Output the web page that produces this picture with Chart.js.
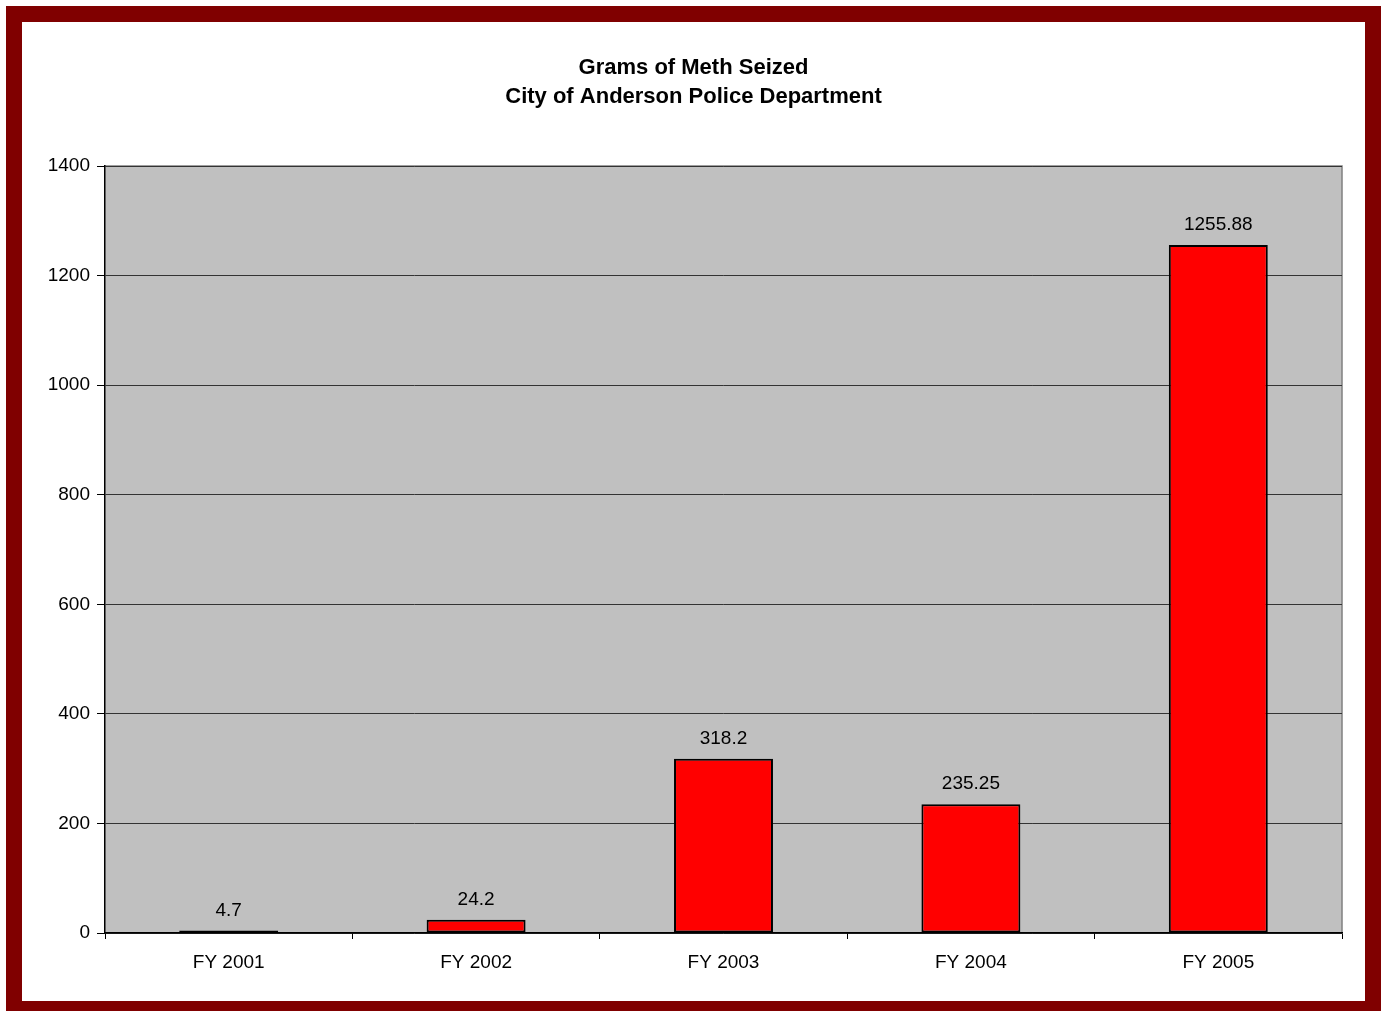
<!DOCTYPE html>
<html>
<head>
<meta charset="utf-8">
<script src="https://cdn.jsdelivr.net/npm/chart.js@4/dist/chart.umd.min.js"></script>
<style>
  html, body { margin: 0; padding: 0; background: #fff; }
  #frame {
    position: absolute; left: 6px; top: 6px;
    width: 1343px; height: 979px;
    border: 16px solid #800000;
    background: #fff;
  }
  canvas { display: block; }
</style>
</head>
<body>
<div id="frame"><canvas id="chart" width="1343" height="979"></canvas></div>
<script>
// valores
var years = ["FY 2001", "FY 2002", "FY 2003", "FY 2004", "FY 2005"];
var grams = [4.7, 24.2, 318.2, 235.25, 1255.88];
var titleLines = ["Grams of Meth Seized", "City of Anderson Police Department"];

var plotBack = {
    id: 'plotBack',
    beforeDraw: function(chart) {
        var a = chart.chartArea, c = chart.ctx;
        c.save();
        c.fillStyle = '#C0C0C0';
        c.fillRect(a.left, a.top, a.right - a.left, a.bottom - a.top);
        c.strokeStyle = '#808080';
        c.lineWidth = 1.5;
        c.beginPath();
        c.moveTo(a.left, a.top);
        c.lineTo(a.right, a.top);
        c.lineTo(a.right, a.bottom);
        c.stroke();
        c.restore();
    }
};

var barLabels = {
    id: 'barLabels',
    afterDatasetsDraw: function(chart) {
        var c = chart.ctx;
        var meta = chart.getDatasetMeta(0);
        c.save();
        c.font = '19px "Liberation Sans", Arial, sans-serif';
        c.fillStyle = '#000';
        c.textAlign = 'center';
        c.textBaseline = 'middle';
        meta.data.forEach(function(bar, i) {
            c.fillText(String(grams[i]), bar.x, bar.y - 20);
        });
        c.restore();
    }
};

var ctx = document.getElementById("chart");
var chartGraph = new Chart(ctx, {
    type: 'bar',
    data: {
        labels: years,
        datasets: [{
            data: grams,
            backgroundColor: '#FF0000',
            borderColor: '#000',
            borderWidth: 2,
            borderSkipped: false,
            barPercentage: 0.4,
            categoryPercentage: 1
        }]
    },
    options: {
        responsive: false,
        animation: false,
        layout: { padding: { left: 23, right: 23, top: 0, bottom: 0 } },
        plugins: {
            legend: { display: false },
            tooltip: { enabled: false },
            title: {
                display: true,
                text: titleLines,
                color: '#000',
                font: { family: '"Liberation Sans", Arial, sans-serif', size: 22, weight: 'bold', lineHeight: 1.32 },
                padding: { top: 31, bottom: 55 }
            }
        },
        scales: {
            y: {
                min: 0, max: 1400,
                ticks: {
                    stepSize: 200,
                    color: '#000',
                    padding: 7,
                    font: { family: '"Liberation Sans", Arial, sans-serif', size: 19 },
                    callback: function(v) { return String(v); }
                },
                grid: { color: '#333', lineWidth: 1, tickLength: 8, tickColor: '#000' },
                border: { color: '#000', width: 1.5 },
                afterFit: function(s) { s.width = 60; }
            },
            x: {
                ticks: {
                    color: '#000',
                    padding: 12,
                    font: { family: '"Liberation Sans", Arial, sans-serif', size: 19 }
                },
                grid: { offset: true, drawOnChartArea: false, tickLength: 6, tickColor: '#000' },
                border: { color: '#000', width: 1.5 },
                afterFit: function(s) { s.height = 68; }
            }
        }
    },
    plugins: [plotBack, barLabels]
});
</script>
</body>
</html>
